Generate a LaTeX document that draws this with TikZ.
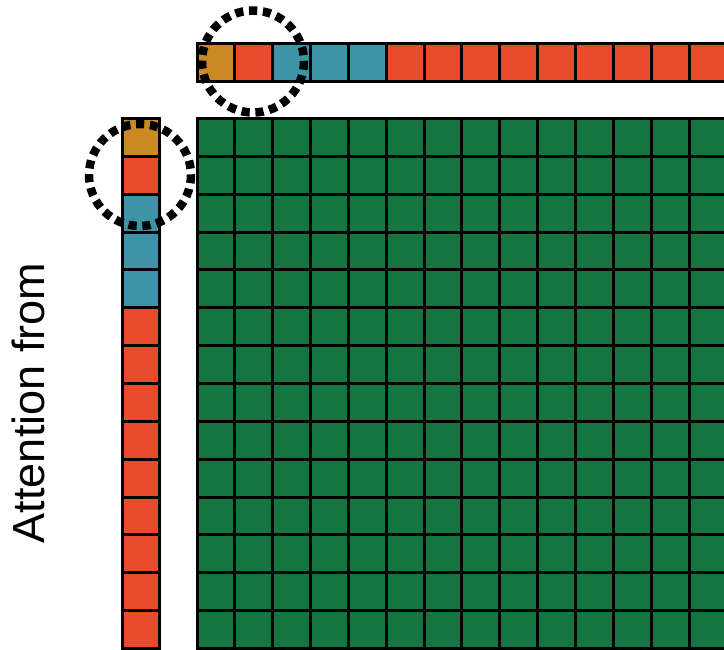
\documentclass[tikz,border=0pt]{standalone}
\usepackage{fontspec}
\setmainfont{Liberation Sans}
\definecolor{cgold}{RGB}{201,138,36}
\definecolor{cred}{RGB}{232,75,42}
\definecolor{cteal}{RGB}{63,147,168}
\definecolor{cgreen}{RGB}{21,117,64}
\tikzset{
  cell/.style={draw=black, line width=3},
  ring/.style={draw=black, line width=8.5, dash pattern=on 8.2 off 5.7},
}
\begin{document}
\begin{tikzpicture}[x=1pt,y=-1pt]
\useasboundingbox (0,0) rectangle (724,649);
\clip (0,0) rectangle (724,649);
\def\p{37.85}
% grid
\foreach \i in {0,...,13}{
  \foreach \j in {0,...,13}{
    \draw[cell, fill=cgreen] ({197+\i*\p},{118.5+\j*\p}) rectangle ++(\p,\p);
  }
}
% top row and left column
\foreach \k/\c in {0/cgold,1/cred,2/cteal,3/cteal,4/cteal,5/cred,6/cred,7/cred,8/cred,9/cred,10/cred,11/cred,12/cred,13/cred}{
  \draw[cell, fill=\c] ({197+\k*\p},43.5) rectangle ++(\p,\p);
  \draw[cell, fill=\c] (122,{118.5+\k*\p}) rectangle ++(\p,\p);
}
% dashed rings
\draw[ring] (253,61.5) circle (51);
\draw[ring] (140,175) circle (51);
% label
\node[rotate=90, anchor=base, inner sep=0, font=\fontsize{45}{45}\selectfont] (lbl) at (44,403) {Attention from};
\end{tikzpicture}
\end{document}
